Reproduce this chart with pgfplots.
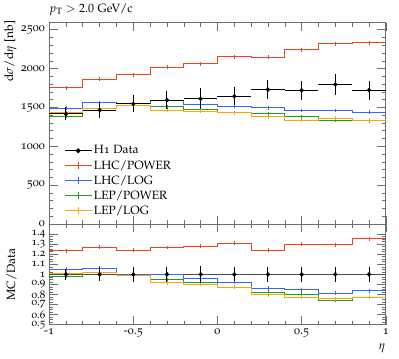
\documentclass[border=0pt]{standalone}
\usepackage[T1]{fontenc}
\usepackage[osf]{mathpazo}
\usepackage{pgfplots}
\pgfplotsset{compat=1.18}
\definecolor{cred}{RGB}{238,68,34}
\definecolor{cblue}{RGB}{51,102,255}
\definecolor{cgreen}{RGB}{34,153,34}
\definecolor{corange}{RGB}{255,165,0}
\definecolor{axgray}{RGB}{110,110,110}
\pgfplotsset{
  rivet/.style={
    scale only axis, width=281pt, xmin=-1, xmax=1,
    tick align=inside, major tick length=7pt, minor tick length=3.5pt,
    axis line style={axgray, line width=0.6pt},
    every tick/.style={axgray, line width=0.5pt},
    /pgf/number format/assume math mode=true,
    /pgf/number format/1000 sep={},
    scaled ticks=false,
    xtick={-1,-0.5,0,0.5,1}, minor x tick num=4,
    clip mode=individual,
  },
  histo/.style={const plot, line width=0.8pt, no marks, forget plot},
  errtick/.style={only marks, mark=|, mark size=1.6pt, line width=0.5pt, forget plot},
}
\begin{document}
\begin{tikzpicture}
\useasboundingbox (-41pt,-28pt) rectangle (292pt,271pt);
% ---------------- main panel ----------------
\begin{axis}[rivet, at={(0,84pt)}, anchor=south west, height=168pt,
  ymin=0, ymax=2590, ytick={0,500,1000,1500,2000,2500}, minor y tick num=4,
  xticklabels={},
  legend style={at={(rel axis cs:0.045,0.40)}, anchor=north west, draw=none, fill=none,
    font=\normalsize, inner sep=0pt, row sep=0.6pt, nodes={inner sep=1.6pt}},
  legend cell align=left,
  legend image code/.code={\draw[mark repeat=2,mark phase=2,#1] plot coordinates {(0cm,0cm) (0.39cm,0cm) (0.78cm,0cm)};},
]
\addlegendimage{black, mark=*, mark size=1.6pt, line width=0.8pt}
\addlegendentry{H1 Data}
\addlegendimage{cred, mark=|, mark size=2.8pt, line width=0.8pt}
\addlegendentry{LHC/POWER}
\addlegendimage{cblue, mark=|, mark size=2.8pt, line width=0.8pt}
\addlegendentry{LHC/LOG}
\addlegendimage{cgreen, mark=|, mark size=2.8pt, line width=0.8pt}
\addlegendentry{LEP/POWER}
\addlegendimage{corange, mark=|, mark size=2.8pt, line width=0.8pt}
\addlegendentry{LEP/LOG}
% LHC/POWER
\addplot[histo, cred] coordinates {(-1,1752) (-0.8,1862) (-0.6,1922) (-0.4,2020) (-0.2,2060) (0,2152) (0.2,2145) (0.4,2240) (0.6,2322) (0.8,2330) (1,2330)};
\addplot[errtick, cred] coordinates {(-0.9,1752) (-0.7,1862) (-0.5,1922) (-0.3,2020) (-0.1,2060) (0.1,2152) (0.3,2145) (0.5,2240) (0.7,2322) (0.9,2330)};
% LHC/LOG
\addplot[histo, cblue] coordinates {(-1,1491) (-0.8,1558) (-0.6,1551) (-0.4,1594) (-0.2,1540) (0,1517) (0.2,1496) (0.4,1461) (0.6,1461) (0.8,1440) (1,1440)};
\addplot[errtick, cblue] coordinates {(-0.9,1491) (-0.7,1558) (-0.5,1551) (-0.3,1594) (-0.1,1540) (0.1,1517) (0.3,1496) (0.5,1461) (0.7,1461) (0.9,1440)};
% LEP/POWER
\addplot[histo, cgreen] coordinates {(-1,1389) (-0.8,1490) (-0.6,1525) (-0.4,1508) (-0.2,1474) (0,1432) (0.2,1423) (0.4,1380) (0.6,1337) (0.8,1330) (1,1330)};
\addplot[errtick, cgreen] coordinates {(-0.9,1389) (-0.7,1490) (-0.5,1525) (-0.3,1508) (-0.1,1474) (0.1,1432) (0.3,1423) (0.5,1380) (0.7,1337) (0.9,1330)};
% LEP/LOG
\addplot[histo, corange] coordinates {(-1,1432) (-0.8,1487) (-0.6,1526) (-0.4,1461) (-0.2,1452) (0,1432) (0.2,1380) (0.4,1333) (0.6,1360) (0.8,1335) (1,1335)};
\addplot[errtick, corange] coordinates {(-0.9,1432) (-0.7,1487) (-0.5,1526) (-0.3,1461) (-0.1,1452) (0.1,1432) (0.3,1380) (0.5,1333) (0.7,1360) (0.9,1335)};
% Data
\addplot[black, only marks, mark=*, mark size=1.6pt, forget plot,
  error bars/.cd, x dir=both, x explicit, y dir=both, y explicit,
  error mark=none, error bar style={line width=0.8pt, black}]
  coordinates {
  (-0.9,1418) +- (0.1,82)
  (-0.7,1466) +- (0.1,103)
  (-0.5,1547) +- (0.1,111)
  (-0.3,1594) +- (0.1,118)
  (-0.1,1611) +- (0.1,135)
  (0.1,1645) +- (0.1,113)
  (0.3,1731) +- (0.1,128)
  (0.5,1722) +- (0.1,122)
  (0.7,1795) +- (0.1,132)
  (0.9,1722) +- (0.1,122)
  };
\node[anchor=south west, inner sep=0pt] at ([yshift=6pt]rel axis cs:0,1) {$p_\mathrm{T} > 2.0$ GeV/c};
\node[anchor=south east, inner sep=0pt, rotate=90] at ([xshift=-27pt, yshift=2pt]rel axis cs:0,1) {d$\sigma$/d$\eta$ [nb]};
\end{axis}
% ---------------- ratio panel ----------------
\begin{axis}[rivet, at={(0,0)}, anchor=south west, height=84pt,
  ymin=0.5, ymax=1.5, ytick={0.5,0.6,0.7,0.8,0.9,1,1.1,1.2,1.3,1.4}, minor y tick num=3,
  xticklabels={-1,-0.5,0,0.5,1},
  yticklabel style={inner sep=0pt, xshift=-3pt, font=\fontsize{9.2}{9.2}\selectfont},
]
\addplot[const plot, line width=1.3pt, black!70, forget plot] coordinates {(-1,1) (1,1)};
% LHC/POWER
\addplot[histo, cred] coordinates {(-1,1.236) (-0.8,1.270) (-0.6,1.242) (-0.4,1.267) (-0.2,1.279) (0,1.308) (0.2,1.239) (0.4,1.301) (0.6,1.294) (0.8,1.353) (1,1.353)};
\addplot[errtick, cred] coordinates {(-0.9,1.236) (-0.7,1.270) (-0.5,1.242) (-0.3,1.267) (-0.1,1.279) (0.1,1.308) (0.3,1.239) (0.5,1.301) (0.7,1.294) (0.9,1.353)};
% LHC/LOG
\addplot[histo, cblue] coordinates {(-1,1.051) (-0.8,1.063) (-0.6,1.003) (-0.4,1.000) (-0.2,0.956) (0,0.922) (0.2,0.864) (0.4,0.848) (0.6,0.814) (0.8,0.836) (1,0.836)};
\addplot[errtick, cblue] coordinates {(-0.9,1.051) (-0.7,1.063) (-0.5,1.003) (-0.3,1.000) (-0.1,0.956) (0.1,0.922) (0.3,0.864) (0.5,0.848) (0.7,0.814) (0.9,0.836)};
% LEP/POWER
\addplot[histo, cgreen] coordinates {(-1,0.980) (-0.8,1.016) (-0.6,0.986) (-0.4,0.946) (-0.2,0.915) (0,0.871) (0.2,0.822) (0.4,0.801) (0.6,0.745) (0.8,0.772) (1,0.772)};
\addplot[errtick, cgreen] coordinates {(-0.9,0.980) (-0.7,1.016) (-0.5,0.986) (-0.3,0.946) (-0.1,0.915) (0.1,0.871) (0.3,0.822) (0.5,0.801) (0.7,0.745) (0.9,0.772)};
% LEP/LOG
\addplot[histo, corange] coordinates {(-1,1.010) (-0.8,1.014) (-0.6,0.986) (-0.4,0.917) (-0.2,0.901) (0,0.871) (0.2,0.797) (0.4,0.774) (0.6,0.758) (0.8,0.775) (1,0.775)};
\addplot[errtick, corange] coordinates {(-0.9,1.010) (-0.7,1.014) (-0.5,0.986) (-0.3,0.917) (-0.1,0.901) (0.1,0.871) (0.3,0.797) (0.5,0.774) (0.7,0.758) (0.9,0.775)};
% Data
\addplot[black, only marks, mark=*, mark size=1.6pt, forget plot,
  error bars/.cd, y dir=both, y explicit,
  error mark=none, error bar style={line width=0.8pt, black}]
  coordinates {
  (-0.9,1) +- (0,0.058)
  (-0.7,1) +- (0,0.070)
  (-0.5,1) +- (0,0.072)
  (-0.3,1) +- (0,0.074)
  (-0.1,1) +- (0,0.084)
  (0.1,1) +- (0,0.069)
  (0.3,1) +- (0,0.074)
  (0.5,1) +- (0,0.071)
  (0.7,1) +- (0,0.074)
  (0.9,1) +- (0,0.071)
  };
\node[anchor=south, inner sep=0pt, rotate=90] at ([xshift=-27pt]rel axis cs:0,0.5) {MC/Data};
\node[anchor=north east, inner sep=0pt] at ([yshift=-16pt]rel axis cs:1,0) {$\eta$};
\end{axis}
\end{tikzpicture}
\end{document}
